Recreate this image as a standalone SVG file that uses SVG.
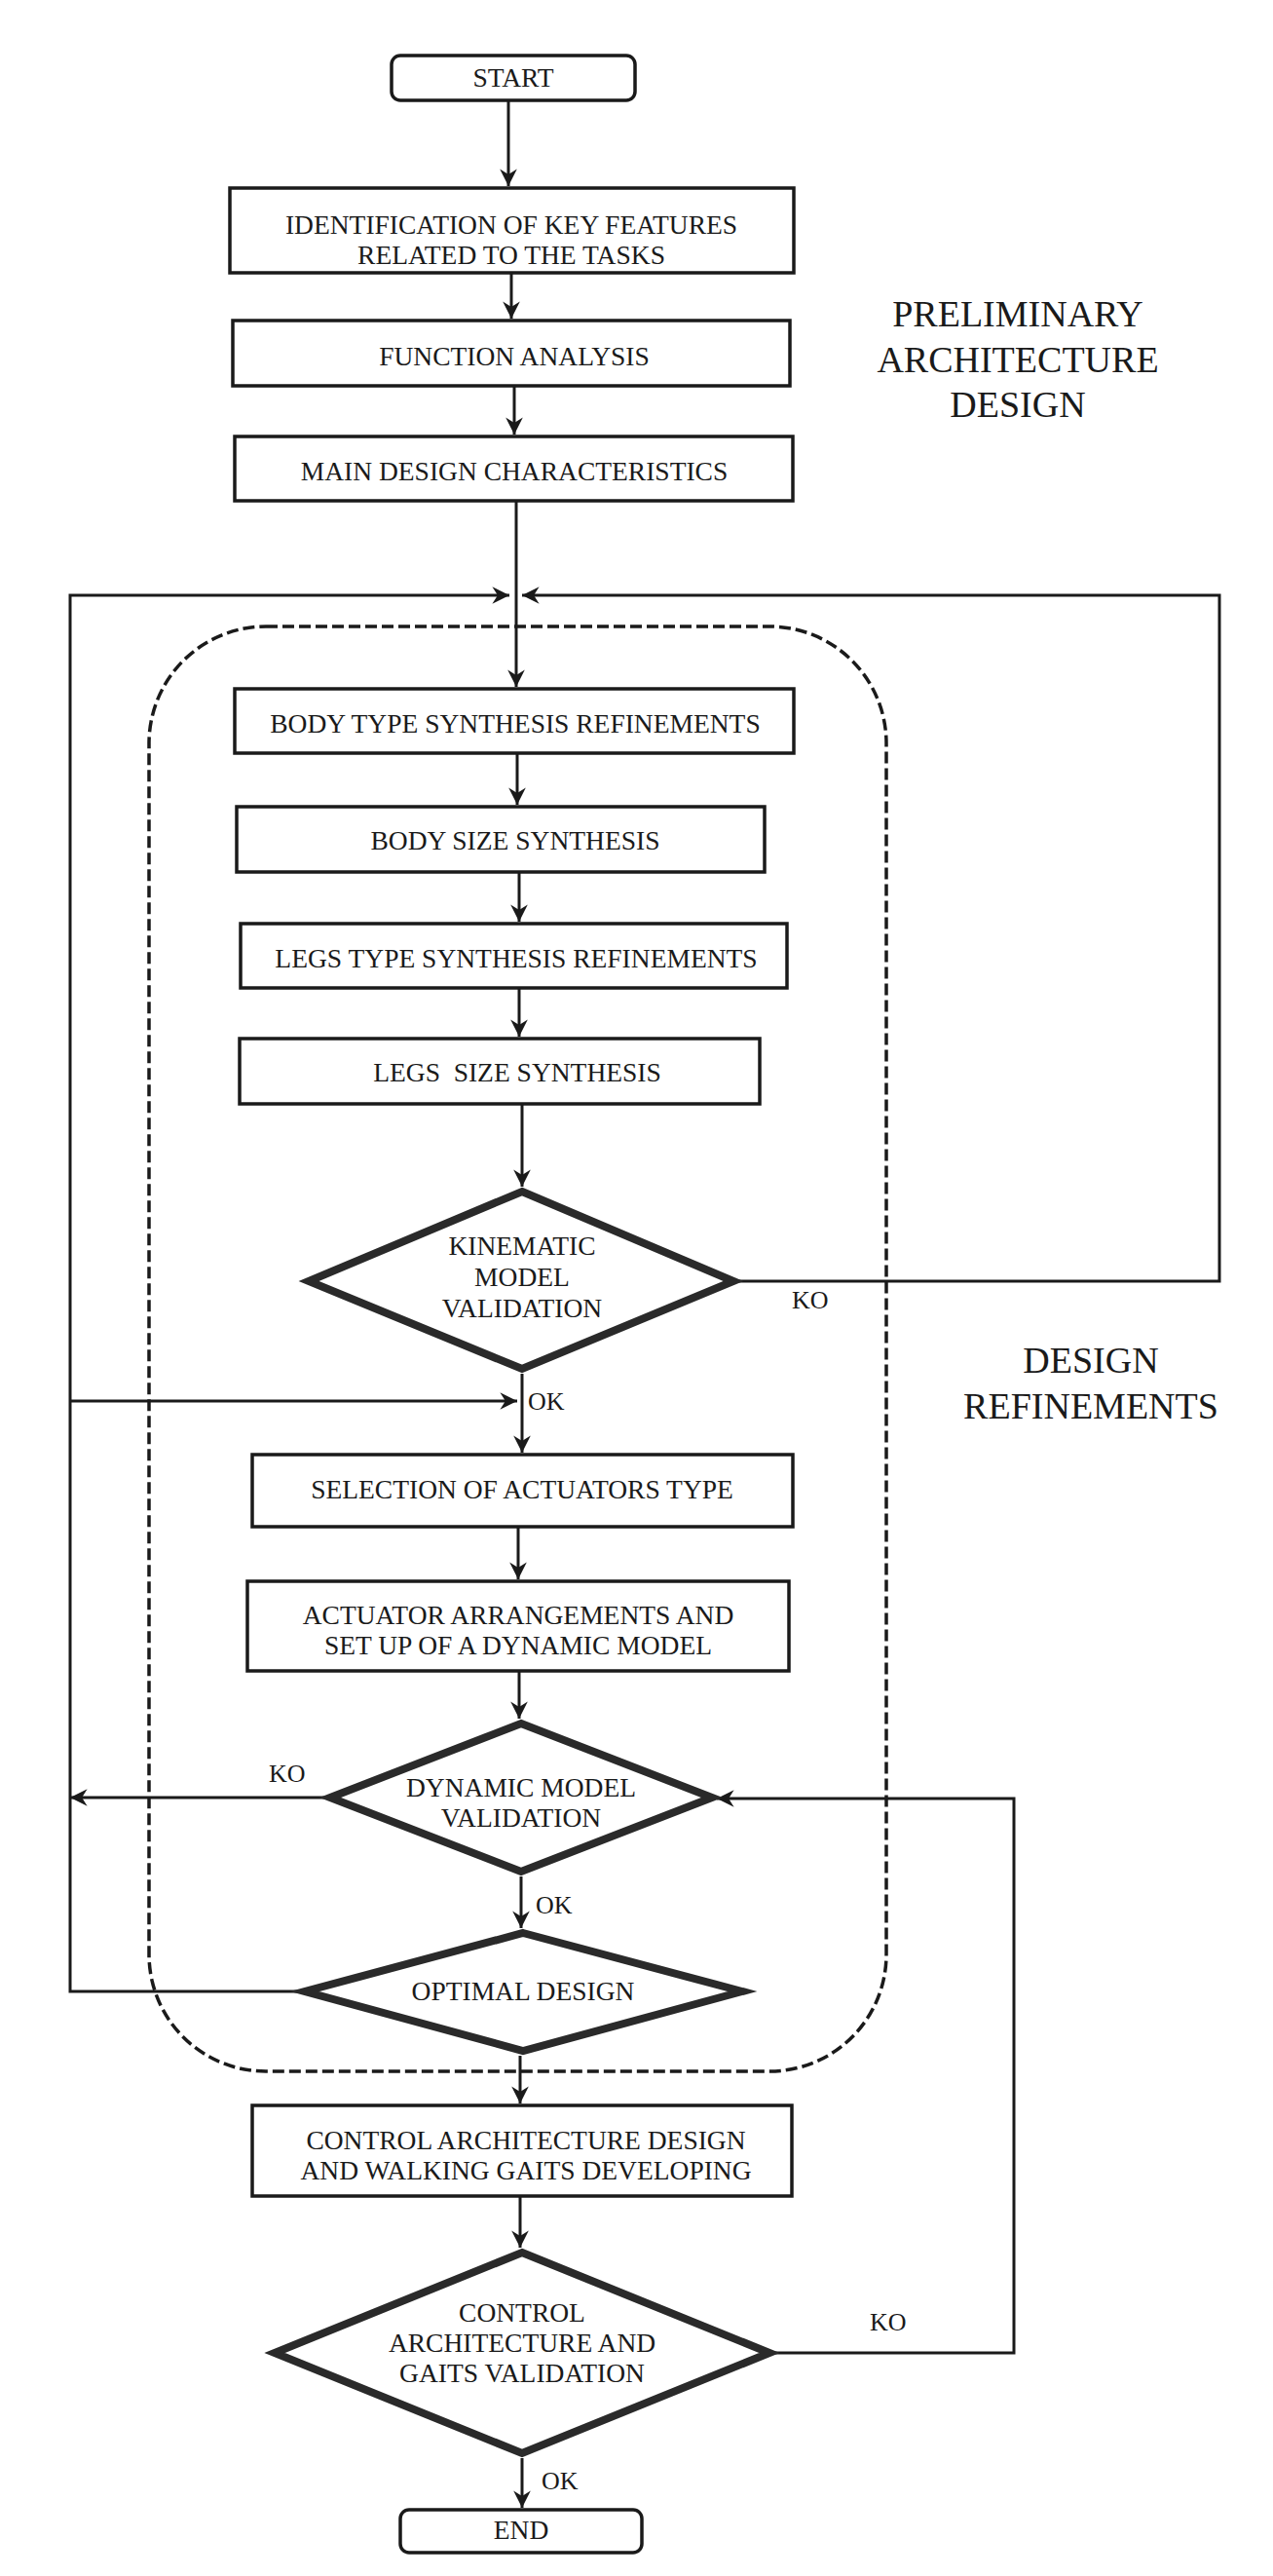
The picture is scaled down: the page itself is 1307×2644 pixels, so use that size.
<svg xmlns="http://www.w3.org/2000/svg" width="1307" height="2644" viewBox="0 0 1307 2644">
<style>
  .box { fill: #ffffff; stroke: #1a1a1a; stroke-width: 3.5; }
  .term { fill: #ffffff; stroke: #1a1a1a; stroke-width: 3.5; }
  .dia { fill: #ffffff; stroke: #2a2a2a; stroke-width: 8; stroke-linejoin: miter; }
  .conn { fill: none; stroke: #1a1a1a; stroke-width: 3; }
  .dash { fill: none; stroke: #1a1a1a; stroke-width: 3.5; stroke-dasharray: 12 5; }
  text { font-family: "Liberation Serif", "Times New Roman", serif; fill: #1a1a1a; text-anchor: middle; }
  .t { font-size: 27.5px; }
  .lbl { font-size: 26px; text-anchor: start; }
  .big { font-size: 38px; }
</style>
<defs>
  <marker id="arr" markerUnits="userSpaceOnUse" markerWidth="22" markerHeight="22" viewBox="-18 -9 20 18" refX="0" refY="0" orient="auto">
    <path d="M0,0 L-16,-8 L-11,0 L-16,8 Z" fill="#1a1a1a"/>
  </marker>
</defs>
<rect width="1307" height="2644" fill="#ffffff"/>

<!-- dashed region -->
<rect id="design-refinements-region" class="dash" x="153" y="643" width="757" height="1483" rx="120" ry="120"/>

<g id="connectors">
  <line class="conn" x1="522" y1="103" x2="522" y2="191" marker-end="url(#arr)"/>
  <line class="conn" x1="525" y1="280" x2="525" y2="327" marker-end="url(#arr)"/>
  <line class="conn" x1="528" y1="396" x2="528" y2="446" marker-end="url(#arr)"/>
  <line class="conn" x1="530" y1="514" x2="530" y2="705" marker-end="url(#arr)"/>
  <line class="conn" x1="531" y1="773" x2="531" y2="826" marker-end="url(#arr)"/>
  <line class="conn" x1="533" y1="895" x2="533" y2="946" marker-end="url(#arr)"/>
  <line class="conn" x1="533" y1="1014" x2="533" y2="1064" marker-end="url(#arr)"/>
  <line class="conn" x1="536" y1="1133" x2="536" y2="1218" marker-end="url(#arr)"/>
  <line class="conn" x1="536" y1="1410" x2="536" y2="1491" marker-end="url(#arr)"/>
  <line class="conn" x1="532" y1="1567" x2="532" y2="1621" marker-end="url(#arr)"/>
  <line class="conn" x1="533" y1="1715" x2="533" y2="1764" marker-end="url(#arr)"/>
  <line class="conn" x1="535" y1="1926" x2="535" y2="1979" marker-end="url(#arr)"/>
  <line class="conn" x1="534" y1="2110" x2="534" y2="2159" marker-end="url(#arr)"/>
  <line class="conn" x1="534" y1="2254" x2="534" y2="2307" marker-end="url(#arr)"/>
  <line class="conn" x1="536" y1="2523" x2="536" y2="2574" marker-end="url(#arr)"/>
  <!-- left loop -->
  <polyline class="conn" points="313,2044 72,2044 72,611 523,611" marker-end="url(#arr)"/>
  <line class="conn" x1="72" y1="1438" x2="531" y2="1438" marker-end="url(#arr)"/>
  <line class="conn" x1="339" y1="1845" x2="72" y2="1845" marker-end="url(#arr)"/>
  <!-- right loops -->
  <polyline class="conn" points="757,1315 1252,1315 1252,611 536,611" marker-end="url(#arr)"/>
  <polyline class="conn" points="794,2415 1041,2415 1041,1846 736,1846" marker-end="url(#arr)"/>
</g>

<g id="start">
  <rect class="term" x="402" y="57" width="250" height="46" rx="9"/>
  <text class="t" x="527" y="89">START</text>
</g>
<g id="identification">
  <rect class="box" x="236" y="193" width="579" height="87"/>
  <text class="t" x="525" y="240">IDENTIFICATION OF KEY FEATURES</text>
  <text class="t" x="525" y="271">RELATED TO THE TASKS</text>
</g>
<g id="function-analysis">
  <rect class="box" x="239" y="329" width="572" height="67"/>
  <text class="t" x="528" y="375">FUNCTION ANALYSIS</text>
</g>
<g id="main-design">
  <rect class="box" x="241" y="448" width="573" height="66"/>
  <text class="t" x="528" y="493">MAIN DESIGN CHARACTERISTICS</text>
</g>
<g id="preliminary-label">
  <text class="big" x="1045" y="335">PRELIMINARY</text>
  <text class="big" x="1045" y="382">ARCHITECTURE</text>
  <text class="big" x="1045" y="428">DESIGN</text>
</g>
<g id="body-type">
  <rect class="box" x="241" y="707" width="574" height="66"/>
  <text class="t" x="529" y="752">BODY TYPE SYNTHESIS REFINEMENTS</text>
</g>
<g id="body-size">
  <rect class="box" x="243" y="828" width="542" height="67"/>
  <text class="t" x="529" y="872">BODY SIZE SYNTHESIS</text>
</g>
<g id="legs-type">
  <rect class="box" x="247" y="948" width="561" height="66"/>
  <text class="t" x="530" y="993">LEGS TYPE SYNTHESIS REFINEMENTS</text>
</g>
<g id="legs-size">
  <rect class="box" x="246" y="1066" width="534" height="67"/>
  <text class="t" x="531" y="1110" xml:space="preserve">LEGS  SIZE SYNTHESIS</text>
</g>
<g id="kinematic">
  <polygon class="dia" points="536,1223 753,1315 536,1405 317,1315"/>
  <text class="t" x="536" y="1288">KINEMATIC</text>
  <text class="t" x="536" y="1320">MODEL</text>
  <text class="t" x="536" y="1352">VALIDATION</text>
</g>
<g id="design-refinements-label">
  <text class="big" x="1120" y="1409">DESIGN</text>
  <text class="big" x="1120" y="1456">REFINEMENTS</text>
</g>
<g id="selection">
  <rect class="box" x="259" y="1493" width="555" height="74"/>
  <text class="t" x="536" y="1538">SELECTION OF ACTUATORS TYPE</text>
</g>
<g id="actuator">
  <rect class="box" x="254" y="1623" width="556" height="92"/>
  <text class="t" x="532" y="1667">ACTUATOR ARRANGEMENTS AND</text>
  <text class="t" x="532" y="1698">SET UP OF A DYNAMIC MODEL</text>
</g>
<g id="dynamic">
  <polygon class="dia" points="535,1769 731,1845 535,1921 339,1845"/>
  <text class="t" x="535" y="1844">DYNAMIC MODEL</text>
  <text class="t" x="535" y="1875">VALIDATION</text>
</g>
<g id="optimal">
  <polygon class="dia" points="537,1984 762,2044 537,2105 313,2044"/>
  <text class="t" x="537" y="2053">OPTIMAL DESIGN</text>
</g>
<g id="control-design">
  <rect class="box" x="259" y="2161" width="554" height="93"/>
  <text class="t" x="540" y="2206">CONTROL ARCHITECTURE DESIGN</text>
  <text class="t" x="540" y="2237">AND WALKING GAITS DEVELOPING</text>
</g>
<g id="control-validation">
  <polygon class="dia" points="536,2312 790,2415 536,2518 282,2415"/>
  <text class="t" x="536" y="2383">CONTROL</text>
  <text class="t" x="536" y="2414">ARCHITECTURE AND</text>
  <text class="t" x="536" y="2445">GAITS VALIDATION</text>
</g>
<g id="end">
  <rect class="term" x="411" y="2576" width="248" height="44" rx="9"/>
  <text class="t" x="535" y="2606">END</text>
</g>

<g id="labels">
  <text class="lbl" x="813" y="1343">KO</text>
  <text class="lbl" x="542" y="1447">OK</text>
  <text class="lbl" x="276" y="1829">KO</text>
  <text class="lbl" x="550" y="1964">OK</text>
  <text class="lbl" x="893" y="2392">KO</text>
  <text class="lbl" x="556" y="2555">OK</text>
</g>
</svg>
